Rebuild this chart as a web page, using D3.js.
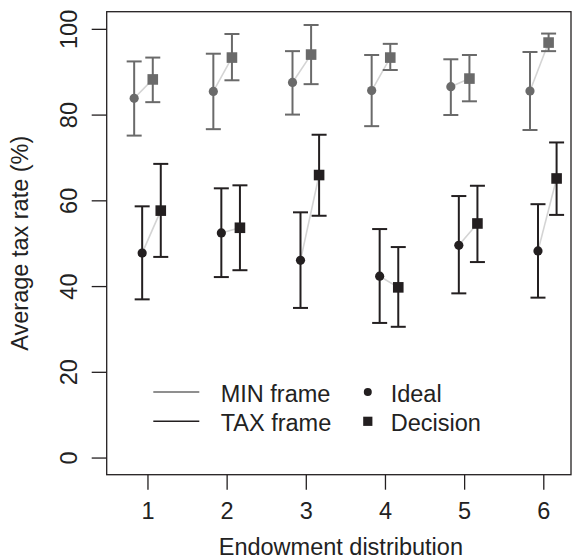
<!DOCTYPE html>
<html>
<head>
<meta charset="utf-8">
<script src="https://cdn.jsdelivr.net/npm/d3@7"></script>
<style>
  body { margin: 0; background: #fff; }
  svg text { font-family: "Liberation Sans", Arial, Helvetica, sans-serif; fill: #222; }
</style>
</head>
<body>
<div id="chart"></div>
<script>
// Endowment distributions on the x axis
const groups = [1, 2, 3, 4, 5, 6];

// MIN frame: ideal and decision tax rates, with error bar ends
const minIdeal      = [83.8, 85.4, 87.5, 85.6, 86.5, 85.5];
const minIdealLo    = [75.1, 76.6, 80.0, 77.3, 79.9, 76.4];
const minIdealHi    = [92.4, 94.2, 94.8, 93.9, 92.9, 94.6];
const minDecision   = [88.2, 93.3, 94.0, 93.3, 88.4, 96.8];
const minDecisionLo = [82.9, 88.0, 87.1, 90.4, 83.1, 94.8];
const minDecisionHi = [93.3, 98.8, 100.9, 96.5, 93.9, 98.9];

// TAX frame
const taxIdeal      = [47.7, 52.4, 46.0, 42.3, 49.5, 48.2];
const taxIdealLo    = [36.9, 42.1, 34.9, 31.4, 38.3, 37.3];
const taxIdealHi    = [58.6, 62.8, 57.2, 53.3, 61.0, 59.1];
const taxDecision   = [57.6, 53.6, 65.9, 39.7, 54.6, 65.1];
const taxDecisionLo = [46.8, 43.7, 56.4, 30.5, 45.6, 56.6];
const taxDecisionHi = [68.5, 63.5, 75.3, 49.1, 63.4, 73.5];

const yTicks = [0, 20, 40, 60, 80, 100];

const width = 580, height = 560;
const plotLeft = 106.7, plotRight = 571, plotTop = 11.7, plotBottom = 474.7;

const svg = d3.select("#chart").append("svg")
  .attr("width", width)
  .attr("height", height);

const x = d3.scaleLinear().domain([0.485, 6.35]).range([plotLeft, plotRight]);
const y = d3.scaleLinear().domain([-4, 104]).range([plotBottom, plotTop]);

const grey = "#6a6a6a";
const black = "#231f20";

// one series per frame / measure, with horizontal dodge
const series = [
  { frame: "MIN", kind: "ideal",    off: -0.168, color: grey,  v: minIdeal,    lo: minIdealLo,    hi: minIdealHi },
  { frame: "MIN", kind: "decision", off:  0.067, color: grey,  v: minDecision, lo: minDecisionLo, hi: minDecisionHi },
  { frame: "TAX", kind: "ideal",    off: -0.067, color: black, v: taxIdeal,    lo: taxIdealLo,    hi: taxIdealHi },
  { frame: "TAX", kind: "decision", off:  0.168, color: black, v: taxDecision, lo: taxDecisionLo, hi: taxDecisionHi }
];

// connector lines between ideal and decision
const pairs = [[series[0], series[1]], [series[2], series[3]]];
pairs.forEach(([a, b]) => {
  svg.append("g").selectAll("line")
    .data(groups)
    .enter()
    .append("line")
    .attr("x1", (g) => x(g + a.off))
    .attr("y1", (g, i) => y(a.v[i]))
    .attr("x2", (g) => x(g + b.off))
    .attr("y2", (g, i) => y(b.v[i]))
    .attr("stroke", "#d4d4d4")
    .attr("stroke-width", 1.6);
});

// error bars
const cap = 7.5;
series.forEach(s => {
  const g = svg.append("g")
    .attr("stroke", s.color)
    .attr("stroke-width", 2);
  g.selectAll(".stem").data(groups).enter().append("line")
    .attr("x1", (d) => x(d + s.off)).attr("x2", (d) => x(d + s.off))
    .attr("y1", (d, i) => y(s.lo[i])).attr("y2", (d, i) => y(s.hi[i]));
  g.selectAll(".capLo").data(groups).enter().append("line")
    .attr("x1", (d) => x(d + s.off) - cap).attr("x2", (d) => x(d + s.off) + cap)
    .attr("y1", (d, i) => y(s.lo[i])).attr("y2", (d, i) => y(s.lo[i]));
  g.selectAll(".capHi").data(groups).enter().append("line")
    .attr("x1", (d) => x(d + s.off) - cap).attr("x2", (d) => x(d + s.off) + cap)
    .attr("y1", (d, i) => y(s.hi[i])).attr("y2", (d, i) => y(s.hi[i]));
});

// points
series.forEach(s => {
  const g = svg.append("g").attr("fill", s.color);
  if (s.kind === "ideal") {
    g.selectAll("circle").data(groups).enter().append("circle")
      .attr("cx", (d) => x(d + s.off))
      .attr("cy", (d, i) => y(s.v[i]))
      .attr("r", 4.6);
  } else {
    const sq = 10.6;
    g.selectAll("rect").data(groups).enter().append("rect")
      .attr("x", (d) => x(d + s.off) - sq / 2)
      .attr("y", (d, i) => y(s.v[i]) - sq / 2)
      .attr("width", sq)
      .attr("height", sq);
  }
});

// axes
const fs = "23.5px";
const yAxis = svg.append("g")
  .attr("transform", `translate(${plotLeft},0)`)
  .call(d3.axisLeft(y).tickValues(yTicks).tickFormat(d3.format("d")).tickSize(15).tickSizeOuter(0));
yAxis.select(".domain").remove();
yAxis.selectAll("line").attr("stroke", black).attr("stroke-width", 1.3);
yAxis.selectAll("text")
  .attr("x", 0).attr("y", -29.7).attr("dy", null)
  .attr("transform", "rotate(-90)")
  .attr("text-anchor", "middle")
  .style("font-size", fs)
  .attr("fill", black);

const xAxis = svg.append("g")
  .attr("transform", `translate(0,${plotBottom})`)
  .call(d3.axisBottom(x).tickValues(groups).tickFormat(d3.format("d")).tickSize(15).tickSizeOuter(0));
xAxis.select(".domain").remove();
xAxis.selectAll("line").attr("stroke", black).attr("stroke-width", 1.3);
xAxis.selectAll("text")
  .attr("y", 44.5).attr("dy", null)
  .style("font-size", fs)
  .attr("fill", black);
yAxis.attr("font-family", null);
xAxis.attr("font-family", null);

// plot box
svg.append("rect")
  .attr("x", plotLeft).attr("y", plotTop)
  .attr("width", plotRight - plotLeft).attr("height", plotBottom - plotTop)
  .attr("fill", "none")
  .attr("stroke", black)
  .attr("stroke-width", 1.3);

// axis titles
svg.append("text")
  .attr("x", (plotLeft + plotRight) / 2 + 2)
  .attr("y", 555)
  .attr("text-anchor", "middle")
  .style("font-size", fs)
  .text("Endowment distribution");

svg.append("text")
  .attr("transform", `translate(28,${(plotTop + plotBottom) / 2}) rotate(-90)`)
  .attr("text-anchor", "middle")
  .style("font-size", fs)
  .text("Average tax rate (%)");

// legend
const frameLegend = [
  { label: "MIN frame", color: grey },
  { label: "TAX frame", color: black }
];
const shapeLegend = ["Ideal", "Decision"];
const rowY = [392, 421.3];

const leg = svg.append("g");
frameLegend.forEach((d, i) => {
  leg.append("line")
    .attr("x1", 153.3).attr("x2", 199.3)
    .attr("y1", rowY[i]).attr("y2", rowY[i])
    .attr("stroke", d.color)
    .attr("stroke-width", 1.6);
  leg.append("text")
    .attr("x", 220.7).attr("y", rowY[i] + 9.6)
    .style("font-size", fs)
    .text(d.label);
});
leg.append("circle")
  .attr("cx", 367.8).attr("cy", rowY[0]).attr("r", 4)
  .attr("fill", black);
leg.append("rect")
  .attr("x", 367.8 - 4.6).attr("y", rowY[1] - 4.6)
  .attr("width", 9.2).attr("height", 9.2)
  .attr("fill", black);
shapeLegend.forEach((d, i) => {
  leg.append("text")
    .attr("x", 390.7).attr("y", rowY[i] + 9.6)
    .style("font-size", fs)
    .text(d);
});
</script>
</body>
</html>
